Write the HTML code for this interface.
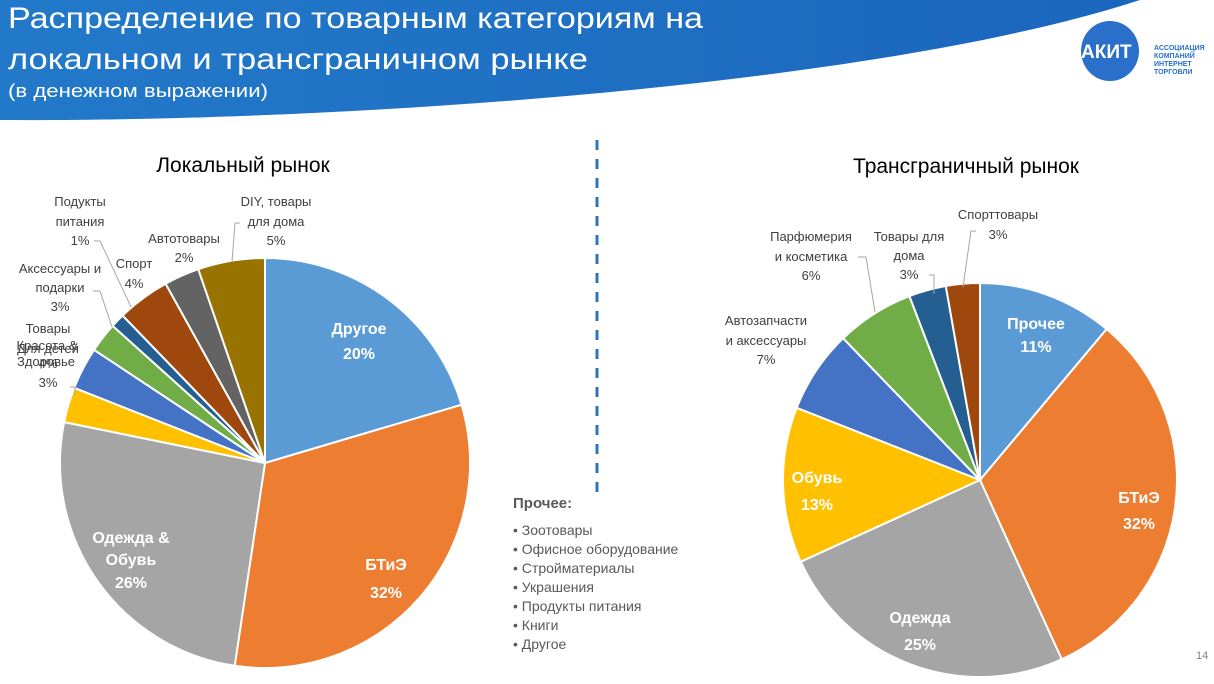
<!DOCTYPE html>
<html><head><meta charset="utf-8"><style>
body{margin:0;width:1214px;height:684px;overflow:hidden;background:#fff;font-family:"Liberation Sans",sans-serif}
svg{position:absolute;left:0;top:0}
</style></head><body>
<svg width="1214" height="684" viewBox="0 0 1214 684" font-family="Liberation Sans, sans-serif">
<defs><linearGradient id="g" x1="0" x2="1" y1="0" y2="0"><stop offset="0" stop-color="#2379c9"/><stop offset="1" stop-color="#1a66bd"/></linearGradient></defs>
<path d="M0,0 L1140,0 C880,85 350,122 0,120 Z" fill="url(#g)"/>
<text x="8" y="28" fill="#fff" font-size="30" textLength="695" lengthAdjust="spacingAndGlyphs">Распределение по товарным категориям на</text>
<text x="8" y="69" fill="#fff" font-size="30" textLength="580" lengthAdjust="spacingAndGlyphs">локальном и трансграничном рынке</text>
<text x="8" y="97" fill="#fff" font-size="18" textLength="260" lengthAdjust="spacingAndGlyphs">(в денежном выражении)</text>
<ellipse cx="1110" cy="51" rx="29" ry="30" fill="#2a6fc9"/>
<text x="1081" y="58" fill="#fff" font-size="19" font-weight="bold">АКИТ</text>
<g fill="#2a6fc9" font-size="7" font-weight="bold"><text x="1154" y="50">АССОЦИАЦИЯ</text><text x="1154" y="58">КОМПАНИЙ</text><text x="1154" y="66">ИНТЕРНЕТ</text><text x="1154" y="74">ТОРГОВЛИ</text></g>
<line x1="597" y1="140" x2="597" y2="495" stroke="#2e75b6" stroke-width="3" stroke-dasharray="10,9"/>
<g id="p1" stroke="#fff" stroke-width="2"></g>
<g id="p2" stroke="#fff" stroke-width="2"></g>
<text x="243" y="172" font-size="21" text-anchor="middle" fill="#000">Локальный рынок</text>
<text x="966" y="173" font-size="21" text-anchor="middle" fill="#000">Трансграничный рынок</text>
<g fill="#fff" font-weight="bold" font-size="16" text-anchor="middle">
<text x="359" y="334">Другое</text><text x="359" y="359">20%</text>
<text x="386" y="570">БТиЭ</text><text x="386" y="598">32%</text>
<text x="131" y="543">Одежда &amp;</text><text x="131" y="565">Обувь</text><text x="131" y="588">26%</text>
<text x="1036" y="329">Прочее</text><text x="1036" y="352">11%</text>
<text x="1139" y="503">БТиЭ</text><text x="1139" y="529">32%</text>
<text x="920" y="623">Одежда</text><text x="920" y="650">25%</text>
<text x="817" y="483">Обувь</text><text x="817" y="510">13%</text>
</g>
<g fill="#404040" font-size="13" text-anchor="middle">
<text x="80" y="206">Подукты</text><text x="80" y="226">питания</text><text x="80" y="245">1%</text>
<text x="60" y="273">Аксессуары и</text><text x="60" y="292">подарки</text><text x="60" y="311">3%</text>
<text x="48" y="333">Товары</text><text x="47" y="350">Красота &amp;</text><text x="48" y="353">Для детей</text><text x="48" y="368">4%</text><text x="46" y="366">Здоровье</text><text x="48" y="387">3%</text>
<text x="134" y="268">Спорт</text><text x="134" y="288">4%</text>
<text x="184" y="243">Автотовары</text><text x="184" y="262">2%</text>
<text x="276" y="206">DIY, товары</text><text x="276" y="226">для дома</text><text x="276" y="245">5%</text>
<text x="998" y="219">Спорттовары</text><text x="998" y="239">3%</text>
<text x="909" y="241">Товары для</text><text x="909" y="260">дома</text><text x="909" y="279">3%</text>
<text x="811" y="241">Парфюмерия</text><text x="811" y="261">и косметика</text><text x="811" y="280">6%</text>
<text x="766" y="325">Автозапчасти</text><text x="766" y="345">и аксессуары</text><text x="766" y="364">7%</text>
</g>
<g stroke="#a6a6a6" fill="none" stroke-width="1">
<path d="M94,241 H100 L131,307"/><path d="M93,291 H100 L112,327"/><path d="M70,387 H75 V395"/>
<path d="M240,223 H235 L232,262"/>
<path d="M976,231 H971 L963,287"/><path d="M929,275 H934 V294"/><path d="M858,257 H866 L875,312"/>
</g>
<g fill="#595959" font-size="14">
<text x="513" y="508" font-weight="bold" font-size="15">Прочее:</text>
<text x="513" y="535">• Зоотовары</text><text x="513" y="554">• Офисное оборудование</text><text x="513" y="573">• Стройматериалы</text><text x="513" y="592">• Украшения</text><text x="513" y="611">• Продукты питания</text><text x="513" y="630">• Книги</text><text x="513" y="649">• Другое</text>
</g>
<text x="1196" y="659" font-size="11" fill="#7f7f7f">14</text>
</svg>
<script>
function pie(id,cx,cy,r,angs,cols){var g=document.getElementById(id),h='';
for(var i=0;i<cols.length;i++){var a0=angs[i]*Math.PI/180,a1=angs[i+1]*Math.PI/180;
var x0=cx+r*Math.sin(a0),y0=cy-r*Math.cos(a0),x1=cx+r*Math.sin(a1),y1=cy-r*Math.cos(a1);
h+='<path d="M'+cx+','+cy+' L'+x0+','+y0+' A'+r+','+r+' 0 '+((angs[i+1]-angs[i])>180?1:0)+' 1 '+x1+','+y1+' Z" fill="'+cols[i]+'"/>';}
g.innerHTML=h;}
pie('p1',265,463,205,[0,73.5,188.5,281.5,291.5,303.5,312,316,331,341,360],
['#5b9bd5','#ed7d31','#a5a5a5','#ffc000','#4472c4','#70ad47','#255e91','#9e480e','#636363','#997300']);
pie('p2',980,480,197,[0,40,155.5,245.5,291.5,316,339,350,360],
['#5b9bd5','#ed7d31','#a5a5a5','#ffc000','#4472c4','#70ad47','#255e91','#9e480e']);
</script>
</body></html>
